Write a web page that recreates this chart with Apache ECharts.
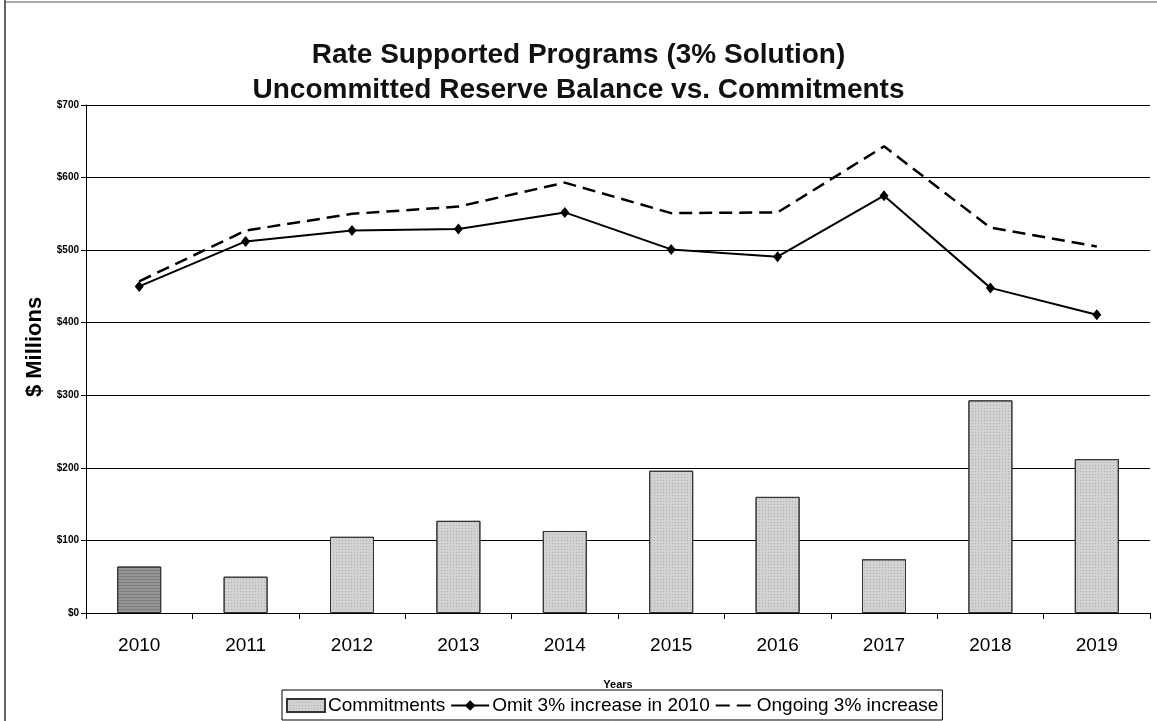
<!DOCTYPE html>
<html>
<head>
<meta charset="utf-8">
<title>Rate Supported Programs (3% Solution)</title>
<script src="https://cdn.jsdelivr.net/npm/echarts@6/dist/echarts.min.js"></script>
<style>
  html, body { margin: 0; padding: 0; background: #fff; }
  #chart { width: 1157px; height: 721px; }
</style>
</head>
<body>
<div id="chart"></div>
<script>
// Years on the category axis
const years = ['2010', '2011', '2012', '2013', '2014', '2015', '2016', '2017', '2018', '2019'];
// Annual commitments, $ millions
const commitments = [64, 50, 105, 127, 113, 196, 160, 74, 293, 212];
// Uncommitted reserve balance, omitting the 3% increase in 2010
const omitIncrease2010 = [450, 512, 527, 529, 552, 501, 491, 575, 448, 411];
// Uncommitted reserve balance with an ongoing 3% increase
const ongoingIncrease = [457, 527, 550, 560, 593, 551, 552, 643, 531, 505];
// Value axis ticks
const yTicks = [0, 100, 200, 300, 400, 500, 600, 700];

const chart = echarts.init(document.getElementById('chart'), null, { renderer: 'canvas' });

// light stipple for the bars, stripes for the first year
const stipple = {
  symbol: 'rect', symbolSize: 1,
  dashArrayX: [1, 2], dashArrayY: [1, 2],
  color: 'rgba(0,0,0,0.16)'
};
const stripes = {
  symbol: 'rect', symbolSize: 1,
  dashArrayX: [1, 0], dashArrayY: [1, 2],
  color: 'rgba(0,0,0,0.18)'
};

const barData = commitments.map((v, i) => (i === 0
  ? { value: v, itemStyle: { color: '#969696', decal: stripes } }
  : v));

chart.setOption({
  animation: false,
  backgroundColor: '#ffffff',
  textStyle: { fontFamily: 'Liberation Sans, Arial, sans-serif', color: '#000' },
  title: {
    text: 'Rate Supported Programs (3% Solution)\nUncommitted Reserve Balance vs. Commitments',
    left: 'center',
    top: 33,
    textStyle: { fontSize: 28, fontWeight: 'bold', lineHeight: 35, color: '#111' }
  },
  graphic: [
    { type: 'line', shape: { x1: 5, y1: 0, x2: 5, y2: 721 }, style: { stroke: '#333', lineWidth: 1.5 } },
    { type: 'line', shape: { x1: 5, y1: 2, x2: 1157, y2: 2 }, style: { stroke: '#555', lineWidth: 1 } }
  ],
  legend: {
    bottom: 1,
    left: 282,
    width: 720,
    padding: [6, 4, 5, 4],
    itemGap: 5,
    itemWidth: 38,
    itemHeight: 13,
    borderColor: '#000',
    borderWidth: 1,
    borderRadius: 0,
    backgroundColor: '#fff',
    textStyle: { fontSize: 19, color: '#000', padding: [0, 0, 0, -2] },
    data: [
      { name: 'Commitments', icon: 'rect' },
      { name: 'Omit 3% increase in 2010' },
      { name: 'Ongoing 3% increase', lineStyle: { type: [14, 7], width: 2 } }
    ]
  },
  grid: { left: 86, right: 7, top: 105, bottom: 108 },
  xAxis: {
    type: 'category',
    data: years,
    name: 'Years',
    nameLocation: 'middle',
    nameGap: 66,
    nameTextStyle: { fontSize: 11, fontWeight: 'bold', color: '#000' },
    axisLine: { lineStyle: { color: '#000', width: 1 } },
    axisTick: { show: true, length: 6, inside: false, lineStyle: { color: '#000' } },
    axisLabel: { fontSize: 19, color: '#000', margin: 23 },
    boundaryGap: true
  },
  yAxis: {
    type: 'value',
    min: yTicks[0],
    max: yTicks[yTicks.length - 1],
    interval: 100,
    name: '$ Millions',
    nameLocation: 'middle',
    nameGap: 33,
    nameRotate: 90,
    nameTextStyle: { fontSize: 22, fontWeight: 'bold', color: '#000', padding: [0, 0, 0, 24] },
    axisLine: { show: true, lineStyle: { color: '#000', width: 1 } },
    axisTick: { show: true, length: 5, lineStyle: { color: '#000' } },
    axisLabel: {
      fontSize: 10, fontWeight: 'bold', color: '#000', margin: 7,
      formatter: v => '$' + v
    },
    splitLine: { show: true, lineStyle: { color: '#000', width: 1 } }
  },
  series: [
    {
      name: 'Commitments',
      type: 'bar',
      data: barData,
      barWidth: 44,
      itemStyle: { color: '#d2d2d2', borderColor: '#333', borderWidth: 1, decal: stipple },
      z: 2
    },
    {
      name: 'Omit 3% increase in 2010',
      type: 'line',
      data: omitIncrease2010,
      symbol: 'diamond',
      symbolSize: [9, 11],
      itemStyle: { color: '#000' },
      lineStyle: { color: '#000', width: 2, type: 'solid' },
      z: 4
    },
    {
      name: 'Ongoing 3% increase',
      type: 'line',
      data: ongoingIncrease,
      symbol: 'none',
      showSymbol: false,
      itemStyle: { color: 'rgba(0,0,0,0)', borderWidth: 0 },
      lineStyle: { color: '#000', width: 2.5, type: [13, 7] },
      z: 3
    }
  ]
});
</script>
</body>
</html>
